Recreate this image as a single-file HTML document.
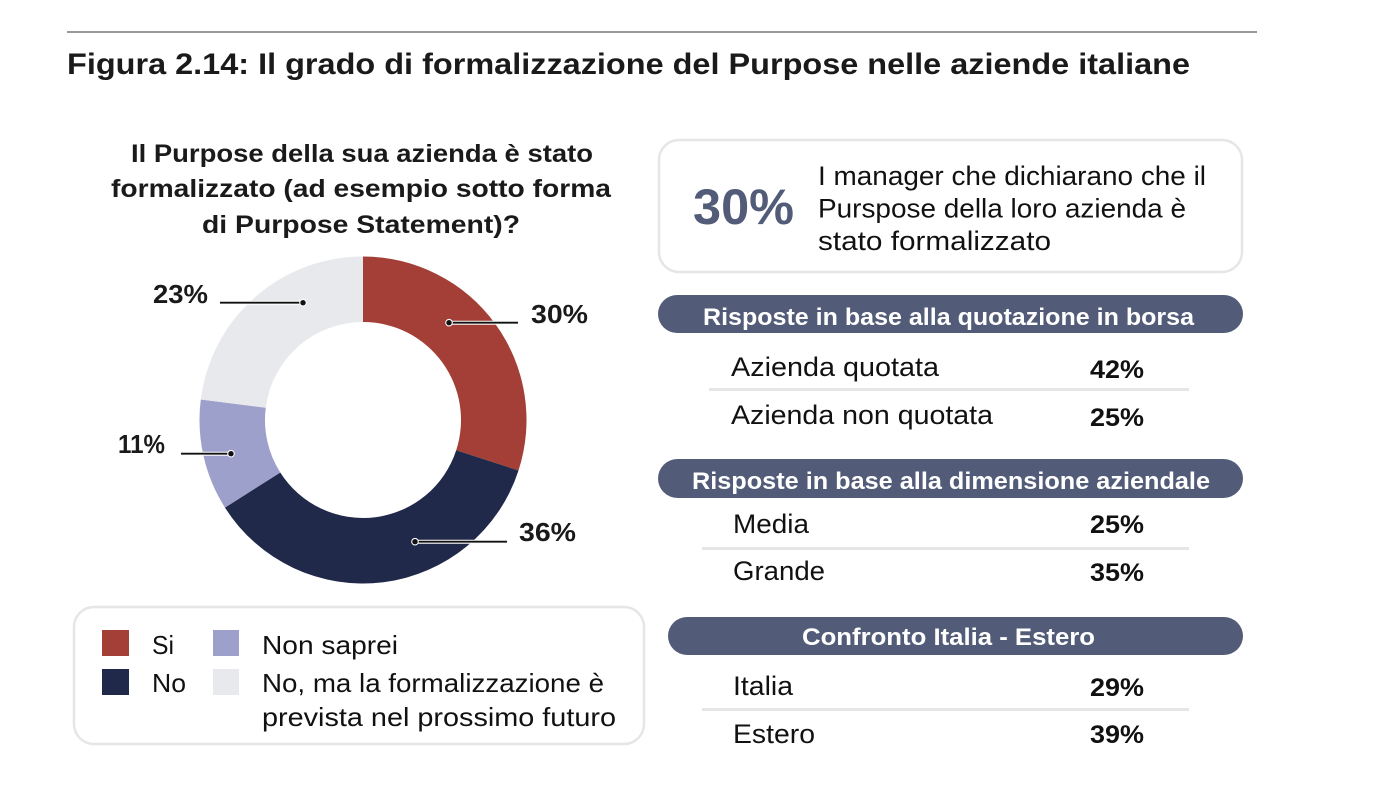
<!DOCTYPE html>
<html>
<head>
<meta charset="utf-8">
<style>
  html,body{margin:0;padding:0;background:#ffffff;}
  svg{display:block;}
  text{font-family:"Liberation Sans", Arial, sans-serif;}
</style>
</head>
<body>
<svg width="1378" height="790" viewBox="0 0 1378 790" xmlns="http://www.w3.org/2000/svg">
  <rect x="0" y="0" width="1378" height="790" fill="#ffffff"/>

  <!-- top rule -->
  <rect x="67" y="31" width="1190" height="2" fill="#9a9a9a"/>

  <!-- title -->
  <text x="67" y="74" font-size="30" font-weight="bold" fill="#1a1a1a" textLength="1123" lengthAdjust="spacingAndGlyphs">Figura 2.14: Il grado di formalizzazione del Purpose nelle aziende italiane</text>

  <!-- subtitle -->
  <g font-size="25" font-weight="bold" fill="#1a1a1a" text-anchor="middle">
    <text x="362" y="162" textLength="462" lengthAdjust="spacingAndGlyphs">Il Purpose della sua azienda è stato</text>
    <text x="361" y="197" textLength="500" lengthAdjust="spacingAndGlyphs">formalizzato (ad esempio sotto forma</text>
    <text x="361" y="233" textLength="318" lengthAdjust="spacingAndGlyphs">di Purpose Statement)?</text>
  </g>

  <!-- donut -->
  <g>
    <path d="M363,256.5 A163.5,163.5 0 0 1 518.50,470.52 L456.20,450.28 A98,98 0 0 0 363,322 Z" fill="#A33F36"/>
    <path d="M518.50,470.52 A163.5,163.5 0 0 1 224.95,507.61 L280.26,472.51 A98,98 0 0 0 456.20,450.28 Z" fill="#20294A"/>
    <path d="M224.95,507.61 A163.5,163.5 0 0 1 200.79,399.51 L265.77,407.72 A98,98 0 0 0 280.26,472.51 Z" fill="#9EA0CC"/>
    <path d="M200.79,399.51 A163.5,163.5 0 0 1 363,256.5 L363,322 A98,98 0 0 0 265.77,407.72 Z" fill="#E8E9ED"/>
  </g>

  <!-- leader lines -->
  <g stroke-linecap="butt">
    <!-- 23% -->
    <line x1="220" y1="302.7" x2="303" y2="302.7" stroke="#ffffff" stroke-width="4"/>
    <line x1="220" y1="302.7" x2="303" y2="302.7" stroke="#111" stroke-width="1.8"/>
    <circle cx="303" cy="302.7" r="3.8" fill="#ffffff"/>
    <circle cx="303" cy="302.7" r="2.7" fill="#111"/>
    <!-- 11% -->
    <line x1="181" y1="453.7" x2="231" y2="453.7" stroke="#ffffff" stroke-width="4"/>
    <line x1="181" y1="453.7" x2="231" y2="453.7" stroke="#111" stroke-width="1.8"/>
    <circle cx="231" cy="453.7" r="3.8" fill="#ffffff"/>
    <circle cx="231" cy="453.7" r="2.7" fill="#111"/>
    <!-- 30% -->
    <line x1="449" y1="322.7" x2="518" y2="322.7" stroke="#ffffff" stroke-width="4"/>
    <line x1="449" y1="322.7" x2="518" y2="322.7" stroke="#111" stroke-width="1.8"/>
    <circle cx="449" cy="322.7" r="3.8" fill="#ffffff"/>
    <circle cx="449" cy="322.7" r="2.7" fill="#111"/>
    <!-- 36% -->
    <line x1="415" y1="541.7" x2="507" y2="541.7" stroke="#ffffff" stroke-width="4"/>
    <line x1="415" y1="541.7" x2="507" y2="541.7" stroke="#111" stroke-width="1.8"/>
    <circle cx="415" cy="541.7" r="3.8" fill="#ffffff"/>
    <circle cx="415" cy="541.7" r="2.7" fill="#111"/>
  </g>

  <!-- donut labels -->
  <g font-size="26" font-weight="bold" fill="#1a1a1a">
    <text x="153" y="303" textLength="55" lengthAdjust="spacingAndGlyphs">23%</text>
    <text x="118" y="453" textLength="47" lengthAdjust="spacingAndGlyphs">11%</text>
    <text x="531" y="323" textLength="57" lengthAdjust="spacingAndGlyphs">30%</text>
    <text x="519" y="541" textLength="57" lengthAdjust="spacingAndGlyphs">36%</text>
  </g>

  <!-- legend -->
  <rect x="74" y="607" width="570" height="137" rx="20" ry="20" fill="#ffffff" stroke="#e6e6e6" stroke-width="2.5"/>
  <rect x="102" y="630" width="27" height="26" fill="#A33F36"/>
  <rect x="213" y="630" width="26" height="26" fill="#9EA0CC"/>
  <rect x="102" y="669" width="27" height="26" fill="#20294A"/>
  <rect x="213" y="669" width="26" height="26" fill="#E8E9ED"/>
  <g font-size="26" fill="#111">
    <text x="152" y="654" textLength="22" lengthAdjust="spacingAndGlyphs">Si</text>
    <text x="262" y="654" textLength="136" lengthAdjust="spacingAndGlyphs">Non saprei</text>
    <text x="152" y="692" textLength="34" lengthAdjust="spacingAndGlyphs">No</text>
    <text x="262" y="692" textLength="342" lengthAdjust="spacingAndGlyphs">No, ma la formalizzazione è</text>
    <text x="262" y="726" textLength="354" lengthAdjust="spacingAndGlyphs">prevista nel prossimo futuro</text>
  </g>

  <!-- info box -->
  <rect x="659" y="140" width="583" height="132" rx="20" ry="20" fill="#ffffff" stroke="#e6e6e6" stroke-width="2.5"/>
  <text x="693" y="224" font-size="50" font-weight="bold" fill="#525C78" textLength="101" lengthAdjust="spacingAndGlyphs">30%</text>
  <g font-size="27" fill="#111">
    <text x="818" y="185" textLength="388" lengthAdjust="spacingAndGlyphs">I manager che dichiarano che il</text>
    <text x="818" y="217.5" textLength="368" lengthAdjust="spacingAndGlyphs">Purspose della loro azienda è</text>
    <text x="818" y="250" textLength="233" lengthAdjust="spacingAndGlyphs">stato formalizzato</text>
  </g>

  <!-- pills -->
  <rect x="658" y="295" width="585" height="38" rx="19" ry="19" fill="#525C78"/>
  <rect x="658" y="459" width="585" height="39" rx="19.5" ry="19.5" fill="#525C78"/>
  <rect x="668" y="617" width="575" height="38" rx="19" ry="19" fill="#525C78"/>
  <g font-size="24" font-weight="bold" fill="#ffffff">
    <text x="703" y="325" textLength="491" lengthAdjust="spacingAndGlyphs">Risposte in base alla quotazione in borsa</text>
    <text x="692" y="489" textLength="518" lengthAdjust="spacingAndGlyphs">Risposte in base alla dimensione aziendale</text>
    <text x="802" y="645" textLength="293" lengthAdjust="spacingAndGlyphs">Confronto Italia - Estero</text>
  </g>

  <!-- separators -->
  <rect x="709" y="388" width="480" height="3" fill="#e6e6e6"/>
  <rect x="702" y="547" width="487" height="3" fill="#e6e6e6"/>
  <rect x="702" y="708" width="487" height="3" fill="#e6e6e6"/>

  <!-- row labels -->
  <g font-size="27" fill="#111">
    <text x="731" y="376" textLength="208" lengthAdjust="spacingAndGlyphs">Azienda quotata</text>
    <text x="731" y="424" textLength="262" lengthAdjust="spacingAndGlyphs">Azienda non quotata</text>
    <text x="733" y="533" textLength="76" lengthAdjust="spacingAndGlyphs">Media</text>
    <text x="733" y="580" textLength="92" lengthAdjust="spacingAndGlyphs">Grande</text>
    <text x="733" y="695" textLength="60" lengthAdjust="spacingAndGlyphs">Italia</text>
    <text x="733" y="743" textLength="82" lengthAdjust="spacingAndGlyphs">Estero</text>
  </g>

  <!-- row values -->
  <g font-size="25" font-weight="bold" fill="#111">
    <text x="1090" y="378" textLength="54" lengthAdjust="spacingAndGlyphs">42%</text>
    <text x="1090" y="426" textLength="54" lengthAdjust="spacingAndGlyphs">25%</text>
    <text x="1090" y="533" textLength="54" lengthAdjust="spacingAndGlyphs">25%</text>
    <text x="1090" y="581" textLength="54" lengthAdjust="spacingAndGlyphs">35%</text>
    <text x="1090" y="696" textLength="54" lengthAdjust="spacingAndGlyphs">29%</text>
    <text x="1090" y="743" textLength="54" lengthAdjust="spacingAndGlyphs">39%</text>
  </g>
</svg>
</body>
</html>
